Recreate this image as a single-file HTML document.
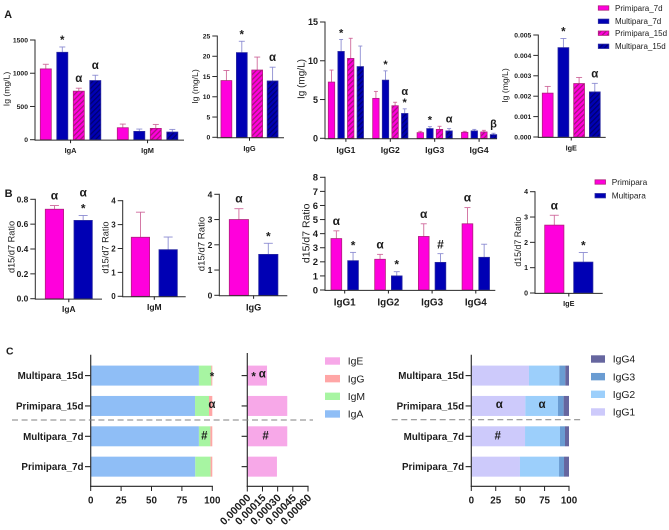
<!DOCTYPE html>
<html lang="en">
<head>
<meta charset="utf-8">
<title>Immunoglobulin charts</title>
<style>
html,body{margin:0;padding:0;background:#fff;}
#fig{display:block;width:669px;height:530px;font-family:"Liberation Sans","DejaVu Sans",sans-serif;}
</style>
</head>
<body>
<svg id="fig" xmlns="http://www.w3.org/2000/svg" width="669" height="530" viewBox="0 0 669 530">
<defs>
<pattern id="hatch-pink" width="3.6" height="3.6" patternUnits="userSpaceOnUse" patternTransform="rotate(-45)"><rect width="3.6" height="3.6" fill="#ff00dc"/><rect width="3.6" height="1.3" fill="#a8127e"/></pattern>
<pattern id="hatch-blue" width="3.6" height="3.6" patternUnits="userSpaceOnUse" patternTransform="rotate(-45)"><rect width="3.6" height="3.6" fill="#0000b4"/><rect width="3.6" height="1.2" fill="#00006e"/></pattern>
</defs>
</svg>
<script>
/* ---------- Panel A data ---------- */
var a1Groups = ['IgA', 'IgM'];
var a1Ticks = [0, 500, 1000, 1500];
var a1Means = [[1065, 1315, 730, 890], [180, 125, 170, 115]];
var a1Tops = [[1135, 1395, 775, 970], [235, 160, 230, 155]];
var a1Marks = [['', '*', 'α', 'α'], ['', '', '', '']];

var a2Groups = ['IgG'];
var a2Ticks = [0, 5, 10, 15, 20, 25];
var a2Means = [[14, 20.9, 16.6, 13.9]];
var a2Tops = [[16.5, 23.7, 19.8, 17.3]];
var a2Marks = [['', '*', '', 'α']];

var a3Groups = ['IgG1', 'IgG2', 'IgG3', 'IgG4'];
var a3Ticks = [0, 5, 10, 15];
var a3Means = [[7.25, 11.2, 10.3, 9.25], [5.15, 7.5, 4.2, 3.2], [0.73, 1.25, 1.15, 0.95], [0.77, 0.95, 0.82, 0.47]];
var a3Tops = [[8.8, 12.75, 12.9, 11.9], [6.05, 8.7, 4.65, 3.8], [0.9, 1.5, 1.55, 1.25], [0.9, 1.15, 1.03, 0.65]];
var a3Marks = [['', '*', '', ''], ['', '*', '', 'α*'], ['', '*', '', 'α'], ['', '', '', 'β']];

var a4Groups = ['IgE'];
var a4Ticks = [0, 0.001, 0.002, 0.003, 0.004, 0.005];
var a4Means = [[0.00215, 0.00438, 0.00262, 0.00221]];
var a4Tops = [[0.00248, 0.00483, 0.00292, 0.00263]];
var a4Marks = [['', '*', '', 'α']];

/* ---------- Panel B data ---------- */
var b1Groups = ['IgA'];
var b1Ticks = [0, 0.2, 0.4, 0.6, 0.8];
var b1Means = [[0.72, 0.63]];
var b1Tops = [[0.75, 0.67]];
var b1Marks = [['α', 'α*']];

var b2Groups = ['IgM'];
var b2Ticks = [0, 1, 2, 3, 4];
var b2Means = [[2.47, 1.95]];
var b2Tops = [[3.52, 2.48]];
var b2Marks = [['', '']];

var b3Groups = ['IgG'];
var b3Ticks = [0, 1, 2, 3, 4];
var b3Means = [[3.0, 1.62]];
var b3Tops = [[3.43, 2.06]];
var b3Marks = [['α', '*']];

var b4Groups = ['IgG1', 'IgG2', 'IgG3', 'IgG4'];
var b4Ticks = [0, 1, 2, 3, 4, 5, 6, 7, 8];
var b4Means = [[3.65, 2.08], [2.18, 1.0], [3.8, 1.96], [4.7, 2.32]];
var b4Tops = [[4.2, 2.67], [2.53, 1.3], [4.7, 2.58], [5.85, 3.25]];
var b4Marks = [['α', '*'], ['α', '*'], ['α', '#'], ['α', '']];

var b5Groups = ['IgE'];
var b5Ticks = [0, 1, 2, 3, 4];
var b5Means = [[2.68, 1.22]];
var b5Tops = [[3.07, 1.6]];
var b5Marks = [['α', '*']];

/* ---------- Panel C data ---------- */
var cCategories = ['Multipara_15d', 'Primipara_15d', 'Multipara_7d', 'Primipara_7d'];
var cPercentTicks = [0, 25, 50, 75, 100];
var c1IgA = [89, 85.8, 89, 86];
var c1IgM = [10.2, 11.5, 9.4, 12.6];
var c1IgG = [0.8, 2.7, 1.6, 1.4];
var c2Ticks = ['0.00000', '0.00015', '0.00030', '0.00045', '0.00060'];
var c2IgE = [0.000195, 0.000395, 0.000395, 0.000293];
var c3IgG1 = [59, 55.3, 55, 49.8];
var c3IgG2 = [31.1, 33.4, 35.8, 40];
var c3IgG3 = [6.1, 5.8, 5.1, 5.1];
var c3IgG4 = [3.8, 5.5, 4.1, 5.1];
var c1NoteCats = [0, 1, 2];
var c1NoteValues = [99.7, 99.7, 93.4];
var c1NoteText = ['*', 'α', '#'];
var c2NoteCats = [0, 0, 2];
var c2NoteValues = [0.000063, 0.000148, 0.000181];
var c2NoteText = ['*', 'α', '#'];
var c3NoteCats = [1, 1, 2];
var c3NoteValues = [28.7, 72.4, 27];
var c3NoteText = ['α', 'α', '#'];

/* ---------- Drawing ---------- */
var NS = 'http://www.w3.org/2000/svg';
var svg = document.getElementById('fig');
var INK = '#1c1c1c';

function node(tag, attrs, name) {
  var el = document.createElementNS(NS, tag);
  for (var k in attrs) { el.setAttribute(k, attrs[k]); }
  
  
  svg.appendChild(el);
  return el;
}
function label(x, y, str, size, weight, anchor, name, transform) {
  var attrs = {x: x, y: y, 'font-size': size, 'font-weight': weight, 'text-anchor': anchor, fill: INK};
  if (transform) { attrs.transform = transform; }
  var el = node('text', attrs, name);
  el.textContent = str;
  return el;
}
function line(x1, y1, x2, y2, color, width, name, dash) {
  var attrs = {x1: x1, y1: y1, x2: x2, y2: y2, stroke: color, 'stroke-width': width};
  if (dash) { attrs['stroke-dasharray'] = dash; }
  return node('line', attrs, name);
}
function glyphDrop(ch) {
  if (ch === '*') { return 6; }
  if (ch === '#') { return 4; }
  return 3;
}
var STYLE_FILL = ['#ff00dc', '#0000b4', 'url(#hatch-pink)', 'url(#hatch-blue)'];
var STYLE_EDGE = ['#b0207c', '#2a2aa0', '#b0207c', '#2a2aa0'];
var STYLE_ERR = ['#cf6a9c', '#8d8dd2', '#cf6a9c', '#8d8dd2'];

function barPanel(p, groups, ticks, means, tops, marks) {
  var yMax = ticks[ticks.length - 1];
  function yScale(v) { return p.y0 - v / yMax * (p.y0 - p.yTop); }
  var nSeries = means[0].length;
  groups.forEach(function (g, gi) {
    var gStart = p.start + gi * p.groupStep;
    means[gi].forEach(function (v, si) {
      var x = gStart + si * p.step;
      var cx = x + p.w / 2;
      var top = yScale(v);
      var tip = yScale(tops[gi][si]);
      line(cx, top, cx, tip, STYLE_ERR[si], 0.9, p.id + '-error-bar');
      line(cx - p.cap, tip, cx + p.cap, tip, STYLE_ERR[si], 0.9, p.id + '-error-cap');
      node('rect', {x: x, y: top, width: p.w, height: p.y0 - top, fill: STYLE_FILL[si], stroke: STYLE_EDGE[si], 'stroke-width': 0.8}, p.id + '-bar-' + g.toLowerCase() + '-' + si);
      var chars = marks[gi][si].split('').reverse();
      chars.forEach(function (ch, ci) {
        var centre = tip - 9 - ci * p.markGap;
        label(cx, centre + glyphDrop(ch), ch, p.markSize, 'bold', 'middle', p.id + '-significance-mark');
      });
    });
    var mid = gStart + ((nSeries - 1) * p.step + p.w) / 2;
    line(mid, p.y0, mid, p.y0 + 3.5, INK, 1, p.id + '-x-tick');
    label(mid, p.catY, g, p.catSize, 'bold', 'middle', p.id + '-x-label');
  });
  line(p.x0, p.y0 + 0.4, p.xEnd, p.y0 + 0.4, '#2a2a2a', 1, p.id + '-x-axis');
  line(p.x0, p.yTop - 0.5, p.x0, p.y0 + 0.9, '#2a2a2a', 1, p.id + '-y-axis');
  ticks.forEach(function (t) {
    var y = yScale(t);
    line(p.x0 - 5, y, p.x0, y, '#2a2a2a', 1, p.id + '-y-tick');
    label(p.x0 - 7, y + p.tickSize * 0.36, t.toFixed(p.decimals), p.tickSize, 'bold', 'end', p.id + '-y-tick-label');
  });
  label(p.titleX, p.titleY, p.title, p.titleSize, 'normal', 'middle', p.id + '-y-title', 'rotate(-90 ' + p.titleX + ' ' + p.titleY + ')');
}

var IG = 'Ig (mg/L)';
var RATIO = 'd15/d7 Ratio';
barPanel({id: 'iga-igm-conc', x0: 35, xEnd: 184, y0: 139.7, yTop: 40, start: 40.3, w: 11, step: 16.5, groupStep: 77, cap: 3, catY: 153, catSize: 7.4, tickSize: 6.8, decimals: 0, titleX: 9.5, titleY: 89, title: IG, titleSize: 8.6, markSize: 11.5, markGap: 10}, a1Groups, a1Ticks, a1Means, a1Tops, a1Marks);
barPanel({id: 'igg-conc', x0: 217.3, xEnd: 284, y0: 137.3, yTop: 36, start: 221, w: 10.8, step: 15.4, groupStep: 0, cap: 3, catY: 151, catSize: 7.4, tickSize: 6.8, decimals: 0, titleX: 198, titleY: 86.5, title: IG, titleSize: 8.6, markSize: 11.5, markGap: 10}, a2Groups, a2Ticks, a2Means, a2Tops, a2Marks);
barPanel({id: 'igg-subclass-conc', x0: 325, xEnd: 497, y0: 138.3, yTop: 22, start: 328.3, w: 6.4, step: 9.6, groupStep: 44.4, cap: 2, catY: 153, catSize: 8.6, tickSize: 9, decimals: 0, titleX: 304.5, titleY: 79, title: IG, titleSize: 10, markSize: 11, markGap: 8}, a3Groups, a3Ticks, a3Means, a3Tops, a3Marks);
barPanel({id: 'ige-conc', x0: 538.3, xEnd: 605.7, y0: 137, yTop: 35, start: 542.3, w: 10.8, step: 15.7, groupStep: 0, cap: 3, catY: 150.5, catSize: 7.3, tickSize: 6.8, decimals: 3, titleX: 508, titleY: 85.5, title: IG, titleSize: 8.6, markSize: 11.5, markGap: 10}, a4Groups, a4Ticks, a4Means, a4Tops, a4Marks);

barPanel({id: 'iga-ratio', x0: 35.3, xEnd: 102, y0: 298.7, yTop: 199.3, start: 45.3, w: 18.3, step: 28.7, groupStep: 0, cap: 4.5, catY: 312, catSize: 8.4, tickSize: 8.4, decimals: 1, titleX: 14.5, titleY: 247, title: RATIO, titleSize: 9.2, markSize: 12, markGap: 13}, b1Groups, b1Ticks, b1Means, b1Tops, b1Marks);
barPanel({id: 'igm-ratio', x0: 122.7, xEnd: 185.7, y0: 296.3, yTop: 200.7, start: 131.3, w: 18.3, step: 27.7, groupStep: 0, cap: 4.5, catY: 310, catSize: 8.5, tickSize: 8, decimals: 0, titleX: 108.5, titleY: 247.5, title: RATIO, titleSize: 9.2, markSize: 12, markGap: 13}, b2Groups, b2Ticks, b2Means, b2Tops, b2Marks);
barPanel({id: 'igg-ratio', x0: 219.3, xEnd: 287.3, y0: 295.3, yTop: 194.3, start: 229.3, w: 19.2, step: 29.4, groupStep: 0, cap: 4.5, catY: 310.5, catSize: 9.2, tickSize: 8.5, decimals: 0, titleX: 204.5, titleY: 244, title: RATIO, titleSize: 9.6, markSize: 12, markGap: 13}, b3Groups, b3Ticks, b3Means, b3Tops, b3Marks);
barPanel({id: 'igg-subclass-ratio', x0: 325, xEnd: 495.3, y0: 290, yTop: 177.3, start: 331, w: 10.7, step: 16.7, groupStep: 43.7, cap: 3, catY: 305.5, catSize: 9.9, tickSize: 9.5, decimals: 0, titleX: 309.5, titleY: 233.3, title: RATIO, titleSize: 10.5, markSize: 12, markGap: 13}, b4Groups, b4Ticks, b4Means, b4Tops, b4Marks);
barPanel({id: 'ige-ratio', x0: 535, xEnd: 602.7, y0: 293, yTop: 191.7, start: 544.7, w: 19.2, step: 29, groupStep: 0, cap: 4.5, catY: 306, catSize: 7.3, tickSize: 7, decimals: 0, titleX: 521, titleY: 241.7, title: RATIO, titleSize: 8.8, markSize: 12, markGap: 13}, b5Groups, b5Ticks, b5Means, b5Tops, b5Marks);

/* legends for A and B */
var aLegendNames = ['Primipara_7d', 'Multipara_7d', 'Primipara_15d', 'Multipara_15d'];
var bLegendNames = ['Primipara', 'Multipara'];
function barLegend(names, x, firstY, gaps, size, textX, id) {
  var y = firstY;
  names.forEach(function (n, i) {
    node('rect', {x: x, y: y - 2.2, width: 10.5, height: 4.4, fill: STYLE_FILL[i], stroke: STYLE_EDGE[i], 'stroke-width': 0.8}, id + '-swatch');
    label(textX, y + size * 0.36, n, size, 'normal', 'start', id + '-label');
    y += gaps[i];
  });
}
barLegend(aLegendNames, 598.3, 8, [13.3, 11.9, 13.1, 0], 8, 615, 'concentration-legend');
barLegend(bLegendNames, 595, 182, [13.7, 0], 8.3, 611.7, 'ratio-legend');

/* panel letters */
label(4.3, 17.8, 'A', 10.8, 'bold', 'start', 'panel-label-a');
label(4.6, 197, 'B', 11, 'bold', 'start', 'panel-label-b');
label(6, 354.3, 'C', 10.4, 'bold', 'start', 'panel-label-c');

/* horizontal stacked panels */
function catY(i) { return 375.6 + i * 30.35; }
var BAR_H = 20;
function stackPanel(p, series, colors, seriesNames) {
  function xs(v) { return p.x0 + v / p.xMax * (p.xEnd - p.x0); }
  cCategories.forEach(function (c, ci) {
    var acc = 0;
    series.forEach(function (arr, si) {
      node('rect', {x: xs(acc), y: catY(ci) - BAR_H / 2, width: xs(acc + arr[ci]) - xs(acc), height: BAR_H, fill: colors[si]}, p.id + '-' + seriesNames[si] + '-segment');
      acc += arr[ci];
    });
    line(p.x0 - 5.7, catY(ci), p.x0, catY(ci), '#222', 1.1, p.id + '-y-tick');
    if (p.showCats) {
      label(p.x0 - 7.2, catY(ci) + 3.5, c, 9.8, 'bold', 'end', p.id + '-category-label');
    }
  });
  line(p.x0, p.yTop, p.x0, 486.8, '#333', 1.2, p.id + '-y-axis');
  line(p.x0 - 0.6, 486.3, p.xEnd + 0.6, 486.3, '#222', 1.1, p.id + '-x-axis');
}
function percentTicks(x0, xEnd, id) {
  cPercentTicks.forEach(function (t) {
    var x = x0 + t / 100 * (xEnd - x0);
    line(x, 486.3, x, 491, '#222', 1, id + '-x-tick');
    label(x, 503.3, String(t), 9.8, 'bold', 'middle', id + '-x-tick-label');
  });
}
function notes(cats, vals, texts, x0, xEnd, xMax, id) {
  texts.forEach(function (t, i) {
    var x = x0 + vals[i] / xMax * (xEnd - x0);
    label(x, catY(cats[i]) + glyphDrop(t) - 1, t, 11.5, 'bold', 'middle', id + '-annotation');
  });
}
var C1_COLORS = ['#8fbef6', '#a7f5a2', '#ffa6a6'];
var C3_COLORS = ['#cdcafb', '#9ccffb', '#6a9cd2', '#66669f'];

stackPanel({id: 'composition-main', x0: 90.7, xEnd: 212.3, xMax: 100, yTop: 354.7, showCats: true}, [c1IgA, c1IgM, c1IgG], C1_COLORS, ['iga', 'igm', 'igg']);
percentTicks(90.7, 212.3, 'composition-main');
notes(c1NoteCats, c1NoteValues, c1NoteText, 90.7, 212.3, 100, 'composition-main');

stackPanel({id: 'composition-ige', x0: 247.3, xEnd: 308, xMax: 0.0006, yTop: 353, showCats: false}, [c2IgE], ['#f7a8e8'], ['ige']);
c2Ticks.forEach(function (t) {
  var x = 247.3 + Number(t) / 0.0006 * (308 - 247.3);
  line(x, 486.3, x, 491.5, '#222', 1, 'composition-ige-x-tick');
  label(x + 4, 498.5, t, 10.6, 'bold', 'end', 'composition-ige-x-tick-label', 'rotate(-45 ' + (x + 4) + ' 498.5)');
});
notes(c2NoteCats, c2NoteValues, c2NoteText, 247.3, 308, 0.0006, 'composition-ige');

stackPanel({id: 'composition-igg', x0: 471.3, xEnd: 569, xMax: 100, yTop: 354.7, showCats: true}, [c3IgG1, c3IgG2, c3IgG3, c3IgG4], C3_COLORS, ['igg1', 'igg2', 'igg3', 'igg4']);
percentTicks(471.3, 569, 'composition-igg');
notes(c3NoteCats, c3NoteValues, c3NoteText, 471.3, 569, 100, 'composition-igg');

/* dashed separators */
line(12, 420, 313, 420, '#808080', 1.1, 'separator-main', '6 3.6');
line(391.7, 419.7, 581.7, 419.7, '#909090', 1.1, 'separator-igg', '6 3.6');

/* composition legends */
var c1LegendNames = ['IgE', 'IgG', 'IgM', 'IgA'];
var c1LegendColors = ['#f7a8e8', '#ffa6a6', '#a7f5a2', '#8fbef6'];
var c3LegendNames = ['IgG4', 'IgG3', 'IgG2', 'IgG1'];
var c3LegendColors = ['#66669f', '#6a9cd2', '#9ccffb', '#cdcafb'];
function stackLegend(names, colors, x, w, firstY, textX, id) {
  names.forEach(function (n, i) {
    var y = firstY + i * 17.65;
    node('rect', {x: x, y: y - 3.7, width: w, height: 7.4, fill: colors[i]}, id + '-swatch');
    label(textX, y + 3.7, n, 10.4, 'normal', 'start', id + '-label');
  });
}
stackLegend(c1LegendNames, c1LegendColors, 325, 15, 361, 347.7, 'composition-legend');
stackLegend(c3LegendNames, c3LegendColors, 591, 14, 359, 612.7, 'igg-composition-legend');
</script>
</body>
</html>
